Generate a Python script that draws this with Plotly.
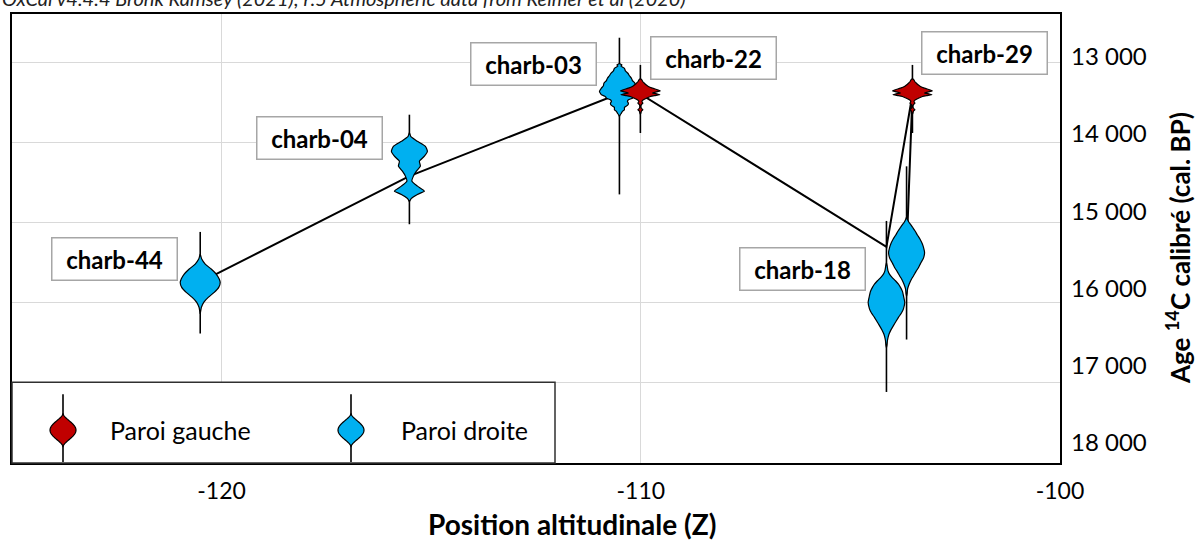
import numpy as np
import plotly.graph_objects as go

# ---------------- DATA ----------------
# samples in the order of the connecting line
samples = ["charb-44", "charb-04", "charb-03", "charb-22", "charb-18", "charb-29", ""]
wall = ["droite", "droite", "droite", "gauche", "droite", "gauche", "droite"]
position_z = [-120.51, -115.52, -110.51, -110.01, -104.14, -103.52, -103.66]
range_min = [15118, 13656, 12696, 13035, 14981, 13035, 14300]
range_max = [16385, 15022, 14650, 13884, 17114, 13884, 16460]
line_age = [15745, 14422, 13391, 13398, 15304, 13404, 15354]

# calibrated probability profiles (age cal. BP, relative density 0-1)
dens_age = [
    [15395, 15457, 15519, 15581, 15644, 15706, 15748, 15810, 15872, 15934, 15996, 16058, 16141],
    [13880, 13930, 13988, 14050, 14112, 14174, 14236, 14298, 14360, 14422, 14484, 14547, 14609, 14650, 14700, 14740],
    [13020, 13035, 13050, 13077, 13110, 13139, 13170, 13201, 13230, 13263, 13295, 13325, 13366, 13390, 13408,
     13430, 13450, 13470, 13491, 13515, 13540, 13565, 13594, 13615, 13636, 13660, 13680],
    [13210, 13222, 13245, 13263, 13285, 13304, 13325, 13345, 13360, 13372, 13385, 13398, 13408, 13418, 13429,
     13450, 13470, 13490, 13512, 13530, 13553, 13575, 13594, 13612, 13636, 13650],
    [15500, 15540, 15600, 15644, 15690, 15727, 15770, 15810, 15860, 15913, 15996, 16078, 16130, 16183, 16235,
     16286, 16340, 16389, 16430, 16472, 16534, 16560],
    [13210, 13222, 13245, 13263, 13285, 13304, 13325, 13345, 13360, 13372, 13385, 13398, 13408, 13418, 13429,
     13450, 13470, 13490, 13512, 13530, 13553, 13575, 13594, 13612, 13636, 13650],
    [14930, 14960, 15000, 15023, 15060, 15106, 15160, 15209, 15260, 15313, 15375, 15420, 15457, 15510, 15561,
     15610, 15665, 15705, 15748, 15790, 15830, 15892, 15920],
]
dens_val = [
    [0, 0.075, 0.25, 0.55, 0.8, 0.95, 1.0, 0.925, 0.7, 0.4, 0.175, 0.06, 0],
    [0, 0.075, 0.4, 0.8, 0.9, 0.75, 0.5, 0.55, 0.35, 0.2, 0.125, 0.4, 0.75, 0.4, 0.1, 0],
    [0, 0.125, 0.075, 0.25, 0.3, 0.425, 0.5, 0.6, 0.65, 0.775, 0.8, 0.9, 1.0, 0.95, 0.9,
     0.7, 0.65, 0.45, 0.4, 0.45, 0.4, 0.25, 0.25, 0.15, 0.1, 0.035, 0],
    [0, 0.075, 0.125, 0.2, 0.3, 0.4, 0.6, 0.85, 1.0, 0.8, 0.6, 0.85, 0.975, 0.7, 0.5,
     0.3, 0.15, 0.075, 0.125, 0.05, 0.025, 0.05, 0.125, 0.05, 0.025, 0],
    [0, 0.035, 0.075, 0.15, 0.3, 0.45, 0.6, 0.7, 0.8, 0.85, 0.915, 0.85, 0.75, 0.6, 0.475,
     0.35, 0.225, 0.135, 0.085, 0.05, 0.025, 0],
    [0, 0.075, 0.125, 0.2, 0.3, 0.4, 0.6, 0.85, 1.0, 0.8, 0.6, 0.85, 0.975, 0.7, 0.5,
     0.3, 0.15, 0.075, 0.125, 0.05, 0.025, 0.05, 0.125, 0.05, 0.025, 0],
    [0, 0.04, 0.125, 0.2, 0.3, 0.425, 0.55, 0.675, 0.775, 0.85, 0.9, 0.875, 0.825, 0.7, 0.6,
     0.475, 0.35, 0.25, 0.165, 0.1, 0.05, 0.025, 0],
]

x_ticks = [-120, -110, -100]
x_tick_labels = ["-120", "-110", "-100"]
y_ticks = [13000, 14000, 15000, 16000, 17000, 18000]
y_tick_labels = ["13 000", "14 000", "15 000", "16 000", "17 000", "18 000"]
legend_names = ["Paroi gauche", "Paroi droite"]
legend_walls = ["gauche", "droite"]

# ---------------- STYLE / LAYOUT ----------------
W, H = 1195, 542
PX_L, PX_R, PY_T, PY_B = 12, 1060, 12, 463
X_RANGE = [-125, -100]
Y_RANGE = [18000, 12400]
COLORS = {"gauche": "#C00000", "droite": "#00B0F0"}
FONT = "Lato, 'Open Sans', sans-serif"
VIOLIN_HALF = 20 / ((PX_R - PX_L) / (X_RANGE[1] - X_RANGE[0]))  # 20 px max half-width, in data units


def paper_x(px):
    return (px - PX_L) / (PX_R - PX_L)


def paper_y(py):
    return (PY_B - py) / (PY_B - PY_T)


fig = go.Figure()

# connecting line (beneath violins)
fig.add_trace(go.Scatter(x=position_z, y=line_age, mode="lines",
                         line=dict(color="black", width=2), hoverinfo="skip", showlegend=False))

# range whiskers
for i in range(len(samples)):
    fig.add_trace(go.Scatter(x=[position_z[i], position_z[i]], y=[range_min[i], range_max[i]],
                             mode="lines", line=dict(color="black", width=1.6),
                             hoverinfo="skip", showlegend=False))

# violins
for i in range(len(samples)):
    a = np.array(dens_age[i], dtype=float)
    d = np.array(dens_val[i], dtype=float) * VIOLIN_HALF
    xs = np.concatenate([position_z[i] + d, (position_z[i] - d)[::-1]])
    ys = np.concatenate([a, a[::-1]])
    fig.add_trace(go.Scatter(x=xs, y=ys, mode="lines", fill="toself",
                             fillcolor=COLORS[wall[i]],
                             line=dict(color="black", width=1.2, shape="spline", smoothing=0.5),
                             hoverinfo="skip", showlegend=False))

# dummy trace for secondary label axis
fig.add_trace(go.Scatter(x=[X_RANGE[0]], y=[13000], yaxis="y2", mode="markers",
                         marker=dict(opacity=0), hoverinfo="skip", showlegend=False))

# sample labels (boxes)
label_centers = {"charb-44": (114, 258), "charb-04": (319, 137), "charb-03": (533, 62),
                 "charb-22": (713, 56.5), "charb-18": (802, 268), "charb-29": (984, 51)}
annotations = []
for name in samples:
    if not name:
        continue
    cx, cy = label_centers[name]
    annotations.append(dict(x=paper_x(cx), y=paper_y(cy), xref="paper", yref="paper",
                            text="<b>%s</b>" % name, showarrow=False,
                            font=dict(family=FONT, size=24, color="black"),
                            bgcolor="white", bordercolor="#A6A6A6", borderwidth=1.5,
                            width=120, height=37, borderpad=2,
                            xanchor="center", yanchor="middle"))

# header text (cut off at the top)
annotations.append(dict(x=paper_x(0), y=paper_y(-4), xref="paper", yref="paper",
                        text="<i>OxCal v4.4.4 Bronk Ramsey (2021); r:5 Atmospheric data from Reimer et al (2020)</i>",
                        showarrow=False, xanchor="left", yanchor="middle",
                        font=dict(family=FONT, size=20, color="#222222")))

# axis titles
annotations.append(dict(x=paper_x(572), y=paper_y(524), xref="paper", yref="paper",
                        text="<b>Position altitudinale (Z)</b>", showarrow=False,
                        xanchor="center", yanchor="middle",
                        font=dict(family=FONT, size=28, color="black")))
annotations.append(dict(x=paper_x(1179), y=paper_y(247), xref="paper", yref="paper",
                        text="<b>Age <sup>14</sup>C calibré (cal. BP)</b>", showarrow=False,
                        textangle=-90, xanchor="center", yanchor="middle",
                        font=dict(family=FONT, size=26, color="black")))

# legend box and glyphs
shapes = [dict(type="rect", xref="paper", yref="paper",
               x0=paper_x(12), x1=paper_x(555), y0=paper_y(382), y1=paper_y(463),
               fillcolor="white", line=dict(color="#303030", width=1.5), layer="above")]
legend_x = [63, 351]
legend_text_x = [108, 399]
cy = 430
t = np.linspace(-1, 1, 41)
for k, wname in enumerate(legend_walls):
    cx = legend_x[k]
    shapes.append(dict(type="line", xref="paper", yref="paper",
                       x0=paper_x(cx), x1=paper_x(cx), y0=paper_y(394), y1=paper_y(462),
                       line=dict(color="black", width=1.6), layer="above"))
    hw = 13 * (1 - t ** 2) ** 2
    pts_r = [(cx + h, cy + 17 * tt) for h, tt in zip(hw, t)]
    pts_l = [(cx - h, cy + 17 * tt) for h, tt in zip(hw[::-1], t[::-1])]
    pts = pts_r + pts_l
    path = "M " + " L ".join("%.5f,%.5f" % (paper_x(px), paper_y(py)) for px, py in pts) + " Z"
    shapes.append(dict(type="path", xref="paper", yref="paper", path=path,
                       fillcolor=COLORS[wname], line=dict(color="black", width=1.2), layer="above"))
    annotations.append(dict(x=paper_x(legend_text_x[k]), y=paper_y(cy), xref="paper", yref="paper",
                            text=legend_names[k], showarrow=False, xanchor="left", yanchor="middle",
                            font=dict(family=FONT, size=25, color="black")))

fig.update_layout(
    width=W, height=H,
    margin=dict(l=PX_L, r=W - PX_R, t=PY_T, b=H - PY_B),
    paper_bgcolor="white", plot_bgcolor="white",
    separators=". ",
    showlegend=False,
    xaxis=dict(range=X_RANGE, tickvals=x_ticks, ticktext=x_tick_labels,
               showgrid=True, gridcolor="#D9D9D9", gridwidth=1, zeroline=False,
               showline=True, mirror=True, linecolor="black", linewidth=2,
               ticks="", ticklabelstandoff=6,
               tickfont=dict(family=FONT, size=23, color="black")),
    yaxis=dict(range=Y_RANGE, tickvals=y_ticks, showticklabels=False,
               showgrid=True, gridcolor="#D9D9D9", gridwidth=1, zeroline=False,
               showline=True, mirror=True, linecolor="black", linewidth=2, ticks=""),
    yaxis2=dict(overlaying="y", side="right", range=[18257.7, 12445.9],
                tickvals=y_ticks, ticktext=y_tick_labels, showgrid=False, zeroline=False,
                showline=False, ticks="", ticklabelstandoff=10,
                tickfont=dict(family=FONT, size=24, color="black")),
    annotations=annotations,
    shapes=shapes,
)

fig.write_html("out.html", config={"displayModeBar": False},
               post_script="document.body.style.margin='0';document.body.style.padding='0';")
